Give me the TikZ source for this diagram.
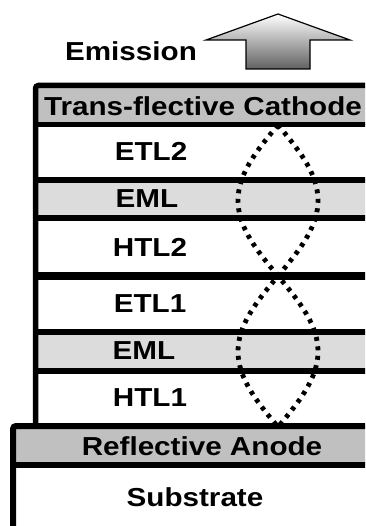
\documentclass[tikz,border=0pt]{standalone}
\usepackage{fontspec}
\setmainfont{Liberation Sans}
\usepackage{tikz}
\usetikzlibrary{calc}
\tikzset{>=latex}
\definecolor{mygray1}{RGB}{192, 192, 192}
\definecolor{mygray2}{RGB}{220, 220, 220}

\begin{document}
\begin{tikzpicture}[x = 1pt, y = -1pt,
  lbl/.style = {font = \fontsize{26}{30}\selectfont\bfseries, xscale = 1.14, inner sep = 0pt},
  wave/.style = {line width = 4.8pt, dash pattern = on 4pt off 5.5pt}]
\clip (0, 0) rectangle (365, 526);

% emission arrow
\draw[line width = 1.2, top color = white, bottom color = black!62]
  (278, 14) -- (350, 40) -- (310, 40) -- (310, 69) -- (246, 69) -- (246, 40) -- (206, 40) -- cycle;
\node[lbl] (emission) at (131, 51) {Emission};

\begin{scope}
% bands
\fill[mygray1] (35, 85) rectangle (370, 125);
\fill[mygray2] (35, 180) rectangle (370, 218);
\fill[mygray2] (35, 331) rectangle (370, 371);
\fill[mygray1] (13, 426) rectangle (370, 465);
% organic stack
\draw[line width = 5.5, rounded corners = 3] (35.5, 426) -- (35.5, 85.5) -- (370, 85.5);
\draw[line width = 5] (35.5, 124.5) -- (370, 124.5);
\draw[line width = 6] (35.5, 180) -- (370, 180);
\draw[line width = 6] (35.5, 218.5) -- (370, 218.5);
\draw[line width = 8] (35.5, 276) -- (370, 276);
\draw[line width = 6] (35.5, 331.5) -- (370, 331.5);
\draw[line width = 6] (35.5, 371) -- (370, 371);
% anode and substrate
\draw[line width = 6, rounded corners = 3] (13, 530) -- (13, 426) -- (370, 426);
\draw[line width = 6] (13, 465) -- (370, 465);
\end{scope}

\node[lbl] (cathode) at (203, 106) {Trans-flective Cathode};
\node[lbl] (etlB) at (151, 151) {ETL2};
\node[lbl] (emlB) at (147, 199) {EML};
\node[lbl] (htlB) at (150, 247) {HTL2};
\node[lbl] (etlA) at (150, 304) {ETL1};
\node[lbl] (emlA) at (144, 351) {EML};
\node[lbl] (htlA) at (150, 398) {HTL1};
\node[lbl] (anode) at (202, 446) {Reflective Anode};
\node[lbl] (substrate) at (195, 497) {Substrate};

% standing wave
\draw[wave] plot[domain = 0:360, samples = 80] ({278 + 40*sin(\x)}, {125 + 0.8389*\x});
\draw[wave] plot[domain = 0:360, samples = 80] ({278 - 40*sin(\x)}, {125 + 0.8389*\x});
\end{tikzpicture}
\end{document}
